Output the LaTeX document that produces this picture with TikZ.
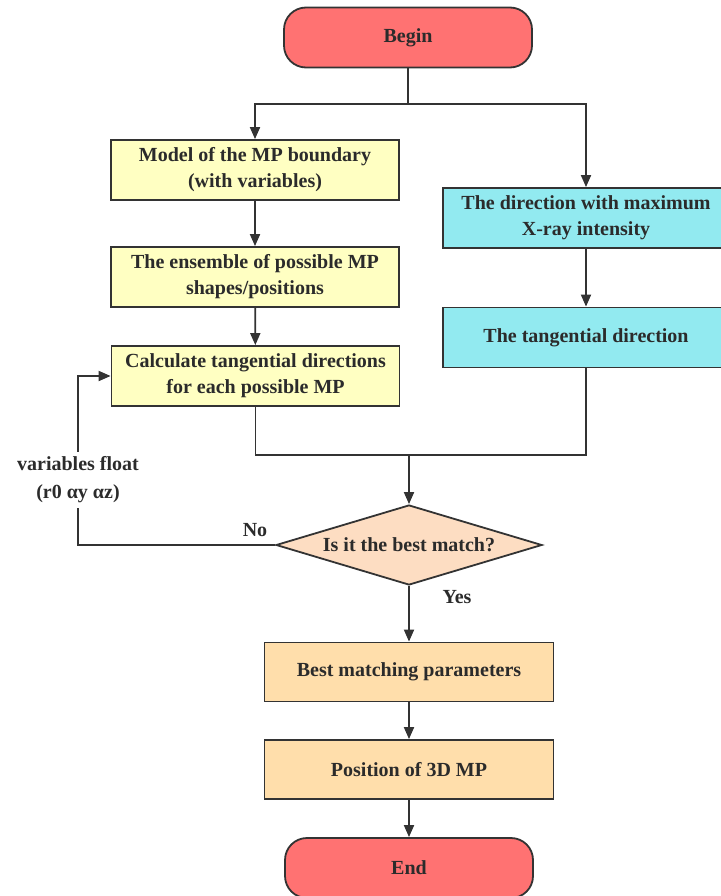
\documentclass[tikz,border=0pt]{standalone}
\usepackage{fontspec}
\setmainfont{Liberation Serif}
\usetikzlibrary{arrows.meta,shapes.geometric}
\definecolor{linec}{HTML}{333333}
\definecolor{txtc}{HTML}{2B2B2B}
\definecolor{redf}{HTML}{FF7272}
\definecolor{yelf}{HTML}{FFFFC2}
\definecolor{cyanf}{HTML}{92EAF0}
\definecolor{orf}{HTML}{FFDEAB}
\definecolor{peachf}{HTML}{FDDDC2}
\tikzset{
  x=1pt,y=1pt,
  every node/.style={font=\fontsize{20}{26}\selectfont\bfseries, text=txtc, align=center},
  termbox/.style={draw=linec, line width=1.8pt, fill=redf, rounded corners=22pt, minimum width=248pt, minimum height=60pt},
  yelbox/.style={draw=linec, line width=1.8pt, fill=yelf, minimum width=288pt, minimum height=60pt},
  cyanbox/.style={draw=linec, line width=1.8pt, fill=cyanf, minimum width=286pt, minimum height=60pt},
  orbox/.style={draw=linec, line width=1.8pt, fill=orf, minimum width=289pt, minimum height=59pt},
  decbox/.style={draw=linec, line width=1.8pt, fill=peachf, diamond, aspect=3.3, inner sep=0pt, minimum width=266pt, minimum height=80pt},
  conn/.style={draw=linec, line width=1.8pt},
  arr/.style={conn, -{Triangle[length=12pt,width=10pt]}},
  lbl/.style={font=\fontsize{20}{28}\selectfont\bfseries}
}
\begin{document}
\begin{tikzpicture}
\useasboundingbox (0,0) rectangle (720,-896);
\node[termbox] (begin) at (408,-37.5) {Begin};
\node[yelbox] (m1) at (255,-170) {Model of the MP boundary\\(with variables)};
\node[yelbox] (m2) at (255,-277) {The ensemble of possible MP\\shapes/positions};
\node[yelbox] (m3) at (255.5,-376) {Calculate tangential directions\\for each possible MP};
\node[cyanbox] (c1) at (586,-218) {The direction with maximum\\X-ray intensity};
\node[cyanbox] (c2) at (586,-337.5) {The tangential direction};
\node[decbox] (d) at (409,-545) {Is it the best match?};
\node[orbox] (b1) at (409,-672) {Best matching parameters};
\node[orbox] (b2) at (409,-769.5) {Position of 3D MP};
\node[termbox] (end) at (409,-868) {End};
\node[lbl, inner xsep=2pt, inner ysep=5pt] (var) at (78,-480) {variables float\\(r0 αy αz)};
\node[lbl] (no) at (255,-530) {No};
\node[lbl] (yes) at (457,-597) {Yes};
\coordinate (split) at (408,-104);
\coordinate (merge) at (409,-455);
\draw[conn] (begin.south) -- (split);
\draw[arr] (split) -| (m1.north);
\draw[arr] (split) -| (c1.north);
\draw[arr] (m1) -- (m2);
\draw[arr] (m2) -- (m3);
\draw[arr] (c1) -- (c2);
\draw[conn] (m3.south) |- (merge);
\draw[conn] (c2.south) |- (merge);
\draw[arr] (merge) -- (d.north);
\draw[conn] (d.west) -| (var.south);
\draw[arr] (var.north) |- (m3.west);
\draw[arr] (d.south) -- (b1.north);
\draw[arr] (b1) -- (b2);
\draw[arr] (b2) -- (end);
\end{tikzpicture}
\end{document}
